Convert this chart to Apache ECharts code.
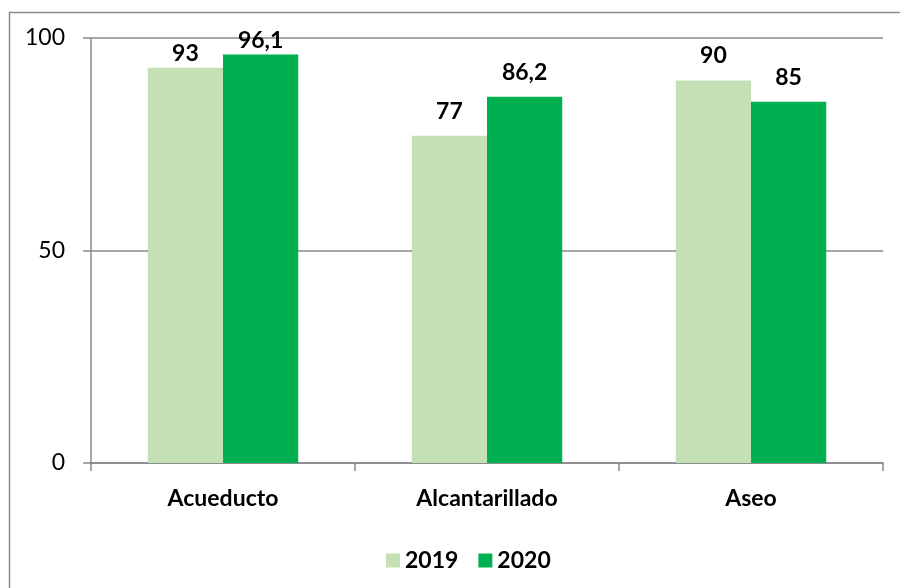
<!DOCTYPE html>
<html>
<head>
<meta charset="utf-8">
<script src="https://cdn.jsdelivr.net/npm/echarts@6/dist/echarts.min.js"></script>
<style>html,body{margin:0;padding:0;background:#fff;}#c{width:900px;height:588px;}</style>
</head>
<body>
<div id="c"></div>
<script>
const categories = ['Acueducto', 'Alcantarillado', 'Aseo'];
const seriesNames = ['2019', '2020'];
const values2019 = [93, 77, 90];
const values2020 = [96.1, 86.2, 85];
const yTicks = [0, 50, 100];

// label placement (style only): labels in the first category sit closer to the bars
const labelDist2019 = [3, 13, 13];
const labelDist2020 = [2, 13, 13];

const FONT = 'Lato, "Open Sans", sans-serif';
const chart = echarts.init(document.getElementById('c'), null, {renderer: 'canvas'});
const labelCfg = {
  show: true, position: 'top', distance: 13,
  color: '#000', fontFamily: FONT, fontWeight: 'bold', fontSize: 23,
  formatter: p => String(p.value).replace('.', ',')
};
const build = (vals, dists) => vals.map((v, i) => ({value: v, label: {distance: dists[i]}}));
chart.setOption({
  animation: false,
  backgroundColor: '#fff',
  graphic: [{
    type: 'rect', shape: {x: 9.5, y: 12.5, width: 900, height: 600},
    style: {fill: 'none', stroke: '#8c8c8c', lineWidth: 1.5}, silent: true, z: -1
  }],
  grid: {left: 91, right: 17, top: 38, bottom: 125, containLabel: false},
  legend: {
    data: seriesNames, left: 381, top: 544, itemWidth: 14, itemHeight: 14, itemGap: 20,
    icon: 'rect',
    textStyle: {color: '#000', fontFamily: FONT, fontWeight: 'bold', fontSize: 23}
  },
  xAxis: {
    type: 'category', data: categories,
    axisLine: {lineStyle: {color: '#888', width: 1.5}},
    axisTick: {show: true, length: 8, alignWithLabel: false, lineStyle: {color: '#888', width: 1.5}},
    axisLabel: {color: '#000', fontFamily: FONT, fontWeight: 'bold', fontSize: 23, margin: 24}
  },
  yAxis: {
    type: 'value', min: yTicks[0], max: yTicks[yTicks.length - 1], interval: 50,
    axisLine: {show: true, lineStyle: {color: '#888', width: 1.5}},
    axisTick: {show: true, length: 8, lineStyle: {color: '#888', width: 1.5}},
    axisLabel: {color: '#000', fontFamily: FONT, fontSize: 23, margin: 26},
    splitLine: {show: true, lineStyle: {color: '#888', width: 1.5}}
  },
  series: [
    {name: seriesNames[0], type: 'bar', data: build(values2019, labelDist2019), barGap: '0%', barCategoryGap: '43%',
     itemStyle: {color: '#C5E0B4'}, label: labelCfg},
    {name: seriesNames[1], type: 'bar', data: build(values2020, labelDist2020), barGap: '0%', barCategoryGap: '43%',
     itemStyle: {color: '#00B050'}, label: labelCfg}
  ]
});
</script>
</body>
</html>
